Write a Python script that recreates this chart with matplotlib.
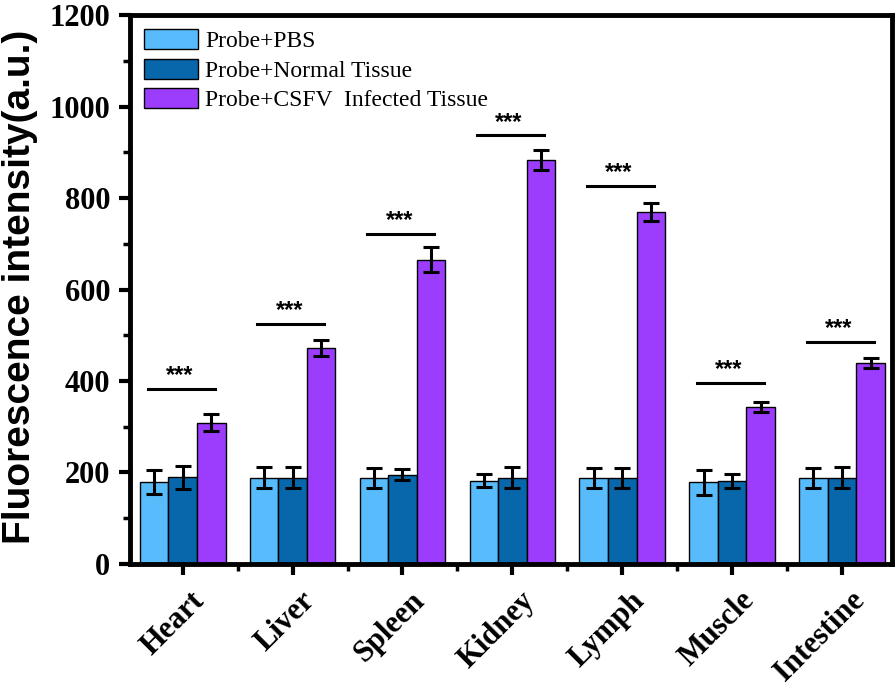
import matplotlib
matplotlib.use("Agg")
import matplotlib.pyplot as plt
import matplotlib.transforms as mtransforms
import numpy as np

categories = ["Heart", "Liver", "Spleen", "Kidney", "Lymph", "Muscle", "Intestine"]
series_names = ["Probe+PBS", "Probe+Normal Tissue", "Probe+CSFV  Infected Tissue"]

pbs = [179, 188, 188, 182, 188, 178, 188]
pbs_err = [27, 23, 22, 14, 22, 27, 22]
normal = [189, 188, 195, 188, 188, 182, 188]
normal_err = [25, 23, 12, 23, 22, 15, 23]
csfv = [309, 472, 665, 883, 770, 344, 439]
csfv_err = [18, 17, 27, 22, 20, 11, 11]

# height of the significance bar above each group
sig_level = [382, 524, 722, 937, 826, 395, 486]
sig_label = "***"

_COLORS = ("#58bcfc", "#0867aa", "#9c3cfc")

fig = plt.figure(figsize=(8.96, 6.91), dpi=100)
ax = fig.add_axes([0.145, 0.184, 0.850, 0.794])

x = np.arange(len(categories))
width = 0.26
values = (pbs, normal, csfv)
errors = (pbs_err, normal_err, csfv_err)
for i, (vals, errs, color, name) in enumerate(zip(values, errors, _COLORS, series_names)):
    ax.bar(
        x + (i - 1) * width,
        vals,
        width,
        color=color,
        edgecolor="black",
        linewidth=1.0,
        label=name,
        yerr=errs,
        error_kw=dict(ecolor="black", elinewidth=2.2, capsize=6, capthick=2.2),
        zorder=2,
    )

for xi, level in zip(x, sig_level):
    ax.plot([xi - 0.32, xi + 0.29], [level, level], color="black", linewidth=2.2)
    ax.text(xi - 0.03, level + 4, sig_label, ha="center", va="bottom",
            fontsize=17, fontfamily="Liberation Sans", fontweight="bold")

ax.set_xlim(-0.48, 6.45)
ax.set_ylim(0, 1200)
ax.set_yticks(np.arange(0, 1201, 200))
ax.set_yticks(np.arange(100, 1200, 200), minor=True)
ax.set_xticks(x)
ax.set_xticks(x[:-1] + 0.5, minor=True)

ax.tick_params(axis="both", which="major", direction="out", length=8, width=3, pad=6)
ax.tick_params(axis="both", which="minor", direction="out", length=5, width=2.5)
for spine in ax.spines.values():
    spine.set_linewidth(3.5)

ax.set_xticklabels(categories, rotation=45, ha="right", va="center", rotation_mode="anchor",
                   fontfamily="Liberation Serif", fontweight="bold", fontsize=22)
# push the rotated labels right/down so their ends sit beside the ticks
shift = mtransforms.ScaledTranslation(18 / 100, -13 / 100, fig.dpi_scale_trans)
for lbl in ax.get_xticklabels():
    lbl.set_transform(lbl.get_transform() + shift)
for lbl in ax.get_yticklabels():
    lbl.set_fontfamily("Liberation Serif")
    lbl.set_fontweight("bold")
    lbl.set_fontsize(22)

ax.set_ylabel("Fluorescence intensity(a.u.)", fontfamily="Liberation Sans",
              fontweight="bold", fontsize=28)
ax.yaxis.set_label_coords(-0.121, 0.505)

ax.legend(
    loc="upper left",
    bbox_to_anchor=(0.0, 1.0),
    frameon=False,
    prop={"family": "Liberation Serif", "size": 17},
    handlelength=2.3,
    handleheight=0.9,
    handletextpad=0.3,
    labelspacing=0.28,
    borderaxespad=0.2,
)

fig.savefig("out.png", dpi=100)
